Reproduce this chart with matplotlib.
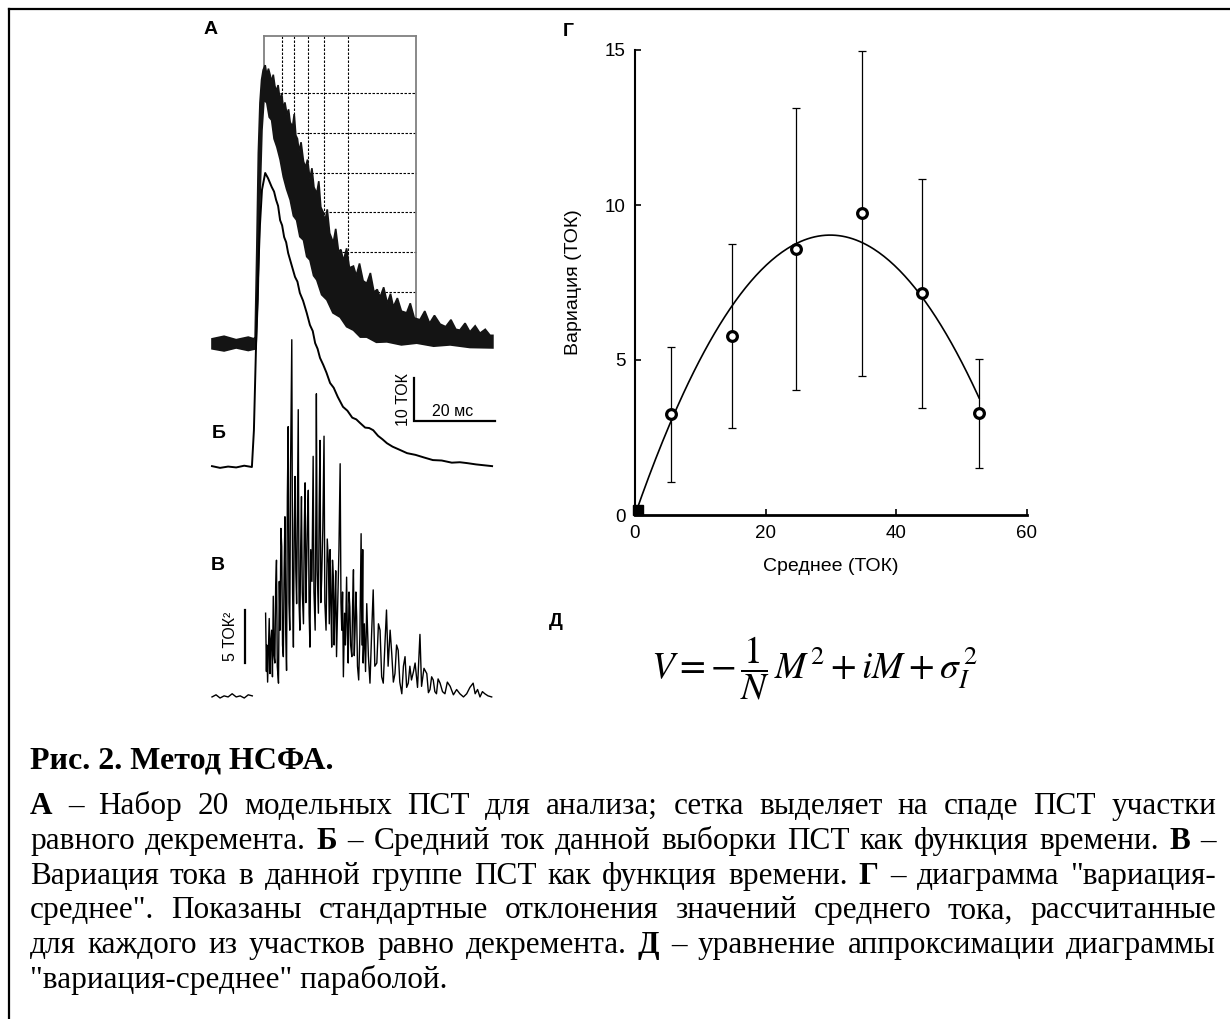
"""
plot.py — рис. 2 «Метод НСФА»: пучок ПСТ (А), средний ток (Б), вариация (В),
диаграмма «вариация-среднее» (Г) и уравнение параболы (Д) + подпись.
"""
import numpy as np
import matplotlib
matplotlib.use("Agg")
import matplotlib.pyplot as plt
from matplotlib.lines import Line2D

W, H, DPI = 1230, 1019, 100
OUT = "out.png"

plt.rcParams["font.family"] = ["Liberation Sans", "DejaVu Sans"]

# ---------------- данные ----------------
# А: огибающие пучка 20 ПСТ, мс / ТОК (0 = базовая линия Б)
A_UP_T = [0, 3, 6, 9, 10.4, 10.7, 11.1, 11.5, 11.9, 12.3, 12.7, 13.2, 13.6, 14.0, 14.4,
          14.8, 15.2, 15.6, 16.0, 16.4, 16.9, 17.3, 17.7, 18.1, 18.6, 19.0, 19.4, 20.0,
          20.4, 20.8, 21.2, 21.6, 22.1, 22.7, 23.2, 23.7, 24.3, 24.8, 25.3, 26.0, 26.5,
          27.0, 27.6, 28.0, 28.6, 29.2, 30.1, 30.7, 31.4, 32.0, 32.6, 33.4, 34.1, 35.1,
          35.8, 36.6, 37.5, 38.4, 39.3, 40.2, 41.0, 41.7, 42.6, 43.5, 44.3, 45.0, 46.0,
          47.0, 48.3, 49.2, 50.2, 51.6, 52.8, 54.0, 55.2, 56.6, 58.0, 59.3, 60.5, 61.5,
          62.8, 64.0, 65.3, 66.5, 67.8, 69.0, 69.7]
A_UP_V = [29.6, 30.2, 29.4, 30.0, 29.6, 30.0, 49.4, 72.5, 84.1, 89.4, 91.7, 92.8, 90.5,
          92.0, 90.6, 89.0, 90.6, 88.0, 86.8, 88.2, 84.6, 86.2, 82.8, 84.2, 81.4, 82.6,
          79.6, 78.6, 81.5, 76.6, 75.8, 72.9, 75.0, 70.6, 69.2, 71.0, 66.6, 69.0, 64.6,
          63.2, 66.0, 60.0, 58.8, 56.6, 59.5, 54.0, 51.8, 55.0, 49.8, 50.2, 47.6, 50.5,
          46.0, 46.4, 44.2, 47.0, 43.0, 42.4, 44.8, 40.4, 41.0, 39.2, 41.5, 37.8, 40.0,
          37.0, 39.0, 36.0, 35.6, 37.8, 34.4, 34.0, 36.0, 33.2, 35.0, 33.0, 32.4, 34.0,
          31.8, 31.6, 33.2, 31.2, 32.6, 30.9, 31.8, 30.4, 30.4]
A_LO_T = [0, 3, 6, 9, 10.9, 11.4, 11.9, 12.4, 12.9, 13.6, 14.2, 14.8, 15.4, 16.1, 16.9,
          17.7, 18.5, 19.4, 20.2, 21.0, 21.8, 22.7, 23.5, 24.3, 25.2, 26.0, 27.2, 28.5,
          30.0, 31.8, 33.4, 35.1, 36.8, 38.4, 40.8, 43.4, 47.0, 50.8, 55.0, 59.1, 64.0, 69.7]
A_LO_V = [27.3, 26.8, 27.5, 26.9, 27.3, 38.6, 61.7, 77.8, 84.8, 84.1, 80.8, 80.1, 75.8,
          73.9, 71.0, 67.0, 64.2, 61.7, 58.0, 57.0, 53.2, 52.4, 48.6, 47.8, 44.2, 43.2,
          39.8, 38.6, 35.6, 34.6, 32.4, 31.6, 30.0, 30.0, 28.8, 28.9, 28.2, 28.6, 27.9,
          28.2, 27.6, 27.5]

# сетка равного декремента (мс / ТОК)
GRID_BOX_T = (13.0, 50.6)
GRID_TOP = 99.5
GRID_T = [17.4, 20.4, 23.7, 27.8, 33.8]
GRID_V = [86.4, 77.2, 68.0, 58.8, 49.6, 40.4]

# Б: средний ток, мс / ТОК
B_T = [0, 2, 4, 6, 8, 9.9, 10.4, 10.9, 11.4, 11.9, 12.4, 13.2, 13.9, 14.8, 15.4, 15.9,
       16.4, 16.9, 17.4, 17.9, 18.4, 18.9, 19.7, 20.6, 21.2, 21.8, 22.6, 23.5, 24.3,
       25.0, 25.6, 26.2, 26.8, 27.6, 28.4, 29.3, 30.2, 31.2, 32.5, 33.6, 34.8, 35.8,
       36.7, 38.0, 39.0, 40.0, 41.2, 42.3, 43.4, 44.8, 46.5, 48.4, 50.5, 52.6, 54.8,
       57.0, 59.5, 61.5, 63.3, 65.5, 67.5, 69.5]
B_V = [0.2, -0.2, 0.1, -0.1, 0.3, 0, 8.5, 27.0, 43.2, 55.9, 64.0, 67.9, 66.7, 64.7,
       63.6, 61.7, 60.3, 57.0, 55.8, 53.1, 51.9, 49.4, 46.8, 43.9, 42.8, 40.2, 38.4,
       35.6, 32.8, 31.4, 28.6, 27.3, 25.2, 23.6, 21.8, 19.4, 18.3, 16.2, 13.9, 13.0,
       11.4, 11.0, 10.2, 9.1, 9.0, 8.5, 7.2, 6.4, 5.5, 4.7, 4.0, 3.2, 2.8, 2.2, 1.6,
       1.5, 1.0, 1.1, 0.9, 0.6, 0.4, 0.2]

# В: вариация тока, (мс, ТОК^2)
VAR_PRE = [(0, 0.1), (1, 0.3), (2, 0.0), (3, 0.2), (4, 0.1), (5, 0.4), (6, 0.1),
           (7, 0.2), (8, 0.0), (9, 0.3), (10, 0.2)]
VAR_TRACE = [
    (13.3, 8.0), (13.5, 2.5), (13.6, 5.0), (13.8, 1.5), (14.0, 4.5), (14.2, 7.5),
    (14.4, 2.3), (14.6, 5.5), (14.8, 6.4), (15.0, 2.0), (15.2, 9.6), (15.4, 4.0),
    (15.6, 3.3), (15.8, 10.5), (16.0, 13.0), (16.2, 3.0), (16.5, 1.4), (16.7, 11.0),
    (16.9, 6.4), (17.1, 16.0), (17.3, 14.3), (17.5, 5.0), (17.7, 3.9), (17.9, 12.0),
    (18.1, 17.1), (18.3, 6.0), (18.5, 2.6), (18.7, 19.0), (18.9, 25.6), (19.1, 9.0),
    (19.3, 6.4), (19.5, 22.0), (19.8, 33.8), (20.0, 10.0), (20.2, 4.8), (20.4, 16.0),
    (20.6, 20.9), (20.8, 12.0), (21.0, 8.9), (21.2, 18.0), (21.4, 27.2), (21.6, 9.0),
    (21.8, 6.4), (22.0, 14.0), (22.2, 19.0), (22.4, 10.0), (22.7, 7.0), (22.9, 16.0),
    (23.1, 20.3), (23.3, 9.0), (23.5, 12.7), (23.7, 17.0), (23.9, 19.6), (24.1, 8.0),
    (24.3, 4.8), (24.5, 14.0), (24.8, 11.0), (25.1, 22.8), (25.3, 10.0), (25.6, 6.4),
    (25.8, 19.0), (25.9, 28.7), (26.1, 12.0), (26.4, 8.0), (26.6, 18.0), (26.8, 24.3),
    (27.0, 9.0), (27.2, 11.1), (27.5, 16.0), (27.8, 24.7), (28.0, 9.0), (28.3, 6.4),
    (28.6, 15.0), (28.9, 12.7), (29.1, 7.0), (29.3, 14.0), (29.5, 9.0), (29.7, 4.8),
    (29.9, 13.0), (30.1, 11.4), (30.3, 5.0), (30.5, 8.9), (30.7, 12.0), (30.9, 3.9),
    (31.2, 9.0), (31.5, 14.0), (31.8, 22.1), (32.0, 9.0), (32.2, 6.4), (32.4, 10.0),
    (32.6, 2.0), (32.9, 8.0), (33.1, 5.0), (33.4, 11.4), (33.6, 6.0), (33.8, 3.3),
    (34.0, 10.0), (34.2, 8.6), (34.4, 5.0), (34.7, 3.9), (34.9, 9.0), (35.1, 12.1),
    (35.3, 4.0), (35.5, 6.4), (35.7, 10.0), (35.9, 7.7), (36.1, 3.0), (36.4, 1.7),
    (36.7, 6.0), (37.0, 15.5), (37.2, 5.0), (37.4, 14.0), (37.5, 3.3), (37.8, 7.0),
    (38.1, 2.5), (38.4, 8.9), (38.8, 4.0), (39.2, 1.4), (39.6, 6.0), (40.0, 10.2),
    (40.4, 3.0), (40.9, 3.3), (41.3, 7.0), (41.7, 6.4), (42.1, 2.0), (42.5, 1.4),
    (42.9, 5.0), (43.3, 8.3), (43.7, 3.0), (44.2, 6.4), (44.6, 4.2), (45.0, 1.5),
    (45.4, 2.3), (45.8, 5.0), (46.2, 4.5), (46.6, 1.5), (47.1, 0.4), (47.5, 3.0),
    (47.9, 3.9), (48.3, 1.0), (48.7, 1.4), (49.1, 3.0), (49.5, 1.7), (50.0, 2.5),
    (50.4, 3.3), (51.0, 1.0), (51.6, 6.0), (52.0, 1.1), (52.6, 2.8), (53.3, 2.3),
    (53.7, 0.5), (54.1, 0.8), (54.5, 2.0), (54.9, 1.7), (55.3, 0.6), (55.7, 0.4),
    (56.1, 1.8), (56.6, 1.4), (57.2, 0.6), (57.8, 0.4), (58.4, 1.5), (59.1, 1.1),
    (59.9, 0.3), (60.7, 0.8), (61.5, 0.4), (62.4, 0.1), (63.2, 0.4), (64.0, 1.0),
    (64.8, 1.4), (65.3, 0.4), (65.9, 0.8), (66.5, 0.1), (67.1, 0.6), (67.7, 0.4),
    (68.5, 0.2), (69.4, 0.1),
]

# Г: диаграмма «вариация-среднее»
MEAN = [5.47, 14.9, 24.6, 34.8, 44.0, 52.7]
VARIANCE = [3.25, 5.78, 8.59, 9.73, 7.15, 3.28]
VAR_SD = [2.17, 2.96, 4.55, 5.25, 3.70, 1.75]
# параметры параболы V = -M^2/N + iM + sigma^2
N_FIT, I_FIT, S2_FIT = 99.0, 0.604, 0.0
M_FIT_MAX = 52.7

CAPTION_HEAD = "Рис. 2. Метод НСФА."
CAPTION = [
    "**А** – Набор 20 модельных ПСТ для анализа; сетка выделяет на спаде ПСТ участки",
    "равного декремента. **Б** – Средний ток данной выборки ПСТ как функция времени. **В** –",
    "Вариация тока в данной группе ПСТ как функция времени. **Г** – диаграмма \"вариация-",
    "среднее\". Показаны стандартные отклонения значений среднего тока, рассчитанные",
    "для каждого из участков равно декремента. **Д** – уравнение аппроксимации диаграммы",
    "\"вариация-среднее\" параболой.",
]

# ---------------- раскладка (пиксели картинки) ----------------
T0_PX, MS_PX = 212.0, 4.03      # t=0 и px на 1 мс
B0_PX, TOK_PX = 467.0, 4.33     # базовая линия Б и px на 1 ТОК
V0_PX, VAR_PX = 698.0, 10.6     # базовая линия В и px на 1 ТОК^2
T_LIM = (-3, 72)


def px_rect(x0, x1, y0, y1):
    return [x0 / W, 1 - y1 / H, (x1 - x0) / W, (y1 - y0) / H]


def trace_axes(fig, base_px, unit_px, ylim):
    x0 = T0_PX + MS_PX * T_LIM[0]
    x1 = T0_PX + MS_PX * T_LIM[1]
    y_top = base_px - unit_px * ylim[1]
    y_bot = base_px - unit_px * ylim[0]
    ax = fig.add_axes(px_rect(x0, x1, y_top, y_bot))
    ax.set_xlim(*T_LIM)
    ax.set_ylim(*ylim)
    ax.axis("off")
    ax.patch.set_alpha(0)
    return ax


fig = plt.figure(figsize=(W / DPI, H / DPI), dpi=DPI)

# рамка (верх и лево)
fig.add_artist(Line2D([9 / W, 9 / W], [0, 1 - 9 / H], transform=fig.transFigure,
                      color="black", lw=1.6))
fig.add_artist(Line2D([9 / W, 1], [1 - 9 / H, 1 - 9 / H], transform=fig.transFigure,
                      color="black", lw=1.6))

# ---- А + Б
ax = trace_axes(fig, B0_PX, TOK_PX, (-2, 102))
up_t, up_v = np.array(A_UP_T), np.array(A_UP_V)
lo_t, lo_v = np.array(A_LO_T), np.array(A_LO_V)

grid_kw = dict(color="black", lw=0.8, ls=(0, (2.2, 1.4)), zorder=1)
for t in GRID_T:
    ax.plot([t, t], [GRID_TOP, np.interp(t, lo_t, lo_v)], **grid_kw)
ipk = int(np.argmax(lo_v))
for v in GRID_V:
    t_start = np.interp(v, lo_v[ipk:][::-1], lo_t[ipk:][::-1])
    ax.plot([t_start, GRID_BOX_T[1]], [v, v], **grid_kw)
box_kw = dict(color="#808080", lw=1.3, zorder=1)
ax.plot(GRID_BOX_T, [GRID_TOP, GRID_TOP], **box_kw)
ax.plot([GRID_BOX_T[0]] * 2, [GRID_TOP, np.interp(GRID_BOX_T[0], up_t, up_v)], **box_kw)
ax.plot([GRID_BOX_T[1]] * 2, [GRID_TOP, np.interp(GRID_BOX_T[1], lo_t, lo_v)], **box_kw)

ax.fill(np.concatenate([up_t, lo_t[::-1]]), np.concatenate([up_v, lo_v[::-1]]),
        color="#141414", lw=1.2, ec="#141414", zorder=3)
ax.plot(B_T, B_V, color="black", lw=1.4, zorder=4)

# масштаб: 10 ТОК / 20 мс
ax.plot([50.2, 50.2, 70.2], [20.6, 10.6, 10.6], color="black", lw=1.6,
        solid_joinstyle="miter")
ax.text(47.4, 15.6, "10 ТОК", rotation=90, ha="center", va="center", fontsize=11.5)
ax.text(59.8, 12.9, "20 мс", ha="center", va="center", fontsize=11.5)

# ---- В
axv = trace_axes(fig, V0_PX, VAR_PX, (-1, 35.5))
pre_t, pre_v = zip(*VAR_PRE)
var_t, var_v = zip(*VAR_TRACE)
axv.plot(pre_t, pre_v, color="black", lw=1.0)
axv.plot(var_t, var_v, color="black", lw=1.0)
axv.plot([8.2, 8.2], [3.3, 8.3], color="black", lw=1.6)
axv.text(4.7, 5.8, "5 ТОК²", rotation=90, ha="center", va="center", fontsize=11.5)

# ---- Г
axg = fig.add_axes(px_rect(635, 1026.7, 50, 515))
axg.errorbar(MEAN, VARIANCE, yerr=VAR_SD, fmt="none", ecolor="black",
             elinewidth=0.9, capsize=3, capthick=0.9, zorder=2)
m = np.linspace(0, M_FIT_MAX, 200)
axg.plot(m, -m ** 2 / N_FIT + I_FIT * m + S2_FIT, color="black", lw=1.2, zorder=3)
axg.plot(MEAN, VARIANCE, "o", ms=7, mfc="white", mec="black", mew=2.3, zorder=4)
axg.plot([0.4], [0.15], "s", ms=7, color="black", clip_on=False, zorder=5)
axg.set_xlim(0, 60)
axg.set_ylim(0, 15)
axg.set_xticks([0, 20, 40, 60])
axg.set_yticks([0, 5, 10, 15])
for s in ("top", "right"):
    axg.spines[s].set_visible(False)
axg.spines["left"].set_linewidth(1.5)
axg.spines["bottom"].set_linewidth(2.0)
axg.tick_params(direction="in", length=4, width=1.2, labelsize=13.5, pad=7)
axg.set_xlabel("Среднее (ТОК)", fontsize=14, labelpad=12)
axg.set_ylabel("Вариация (ТОК)", fontsize=14, labelpad=16)
axg.patch.set_alpha(0)

# ---- Д
fig.text(815 / W, 1 - 668 / H,
         r"$V = -\,\dfrac{1}{N}\,M^{2} + iM + \sigma_{I}^{\,2}$",
         ha="center", va="center", fontsize=27, math_fontfamily="stix")

# ---- подписи панелей
for lab, x, y in [("А", 211, 30), ("Б", 219, 433), ("В", 218, 565),
                  ("Г", 568, 31), ("Д", 556, 621)]:
    fig.text(x / W, 1 - y / H, lab, ha="center", va="center",
             fontsize=14, fontweight="bold")

# ---- подпись рисунка (выключка по ширине)
SERIF = ["Liberation Serif", "DejaVu Serif"]
X_L, X_R = 30, 1216
BODY_FS = 22.5
LINE1_Y, LINE_STEP = 814.0, 34.8
fig.text(X_L / W, 1 - 769 / H, CAPTION_HEAD, family=SERIF, fontsize=23,
         fontweight="bold", va="baseline")

renderer = fig.canvas.get_renderer()
for i, line in enumerate(CAPTION):
    y = 1 - (LINE1_Y + LINE_STEP * i) / H
    if i == len(CAPTION) - 1:
        fig.text(X_L / W, y, line, family=SERIF, fontsize=BODY_FS, va="baseline")
        continue
    words = []
    for w in line.split(" "):
        bold = w.startswith("**")
        words.append(fig.text(0, y, w.strip("*") if bold else w, family=SERIF,
                              fontsize=BODY_FS, va="baseline",
                              fontweight="bold" if bold else "normal"))
    widths = [t.get_window_extent(renderer).width for t in words]
    gap = (X_R - X_L - sum(widths)) / (len(words) - 1)
    x = X_L
    for t, wd in zip(words, widths):
        t.set_x(x / W)
        x += wd + gap

fig.savefig(OUT, dpi=DPI)
print("saved", OUT)
